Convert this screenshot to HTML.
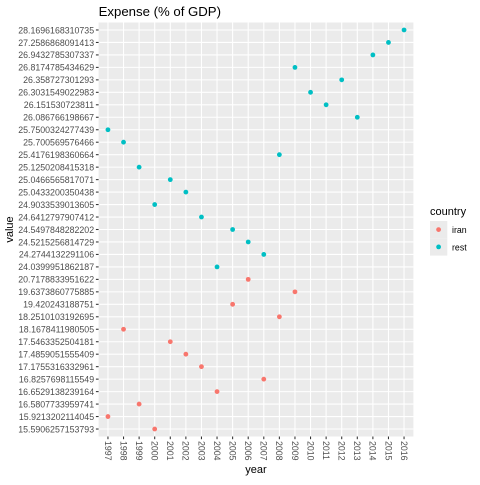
<!DOCTYPE html>
<html><head><meta charset="utf-8"><style>
html,body{margin:0;padding:0;background:#fff;}
svg text{font-family:"Liberation Sans",Arial,sans-serif;}
</style></head><body>
<svg id="chart" width="480" height="480" xmlns="http://www.w3.org/2000/svg"></svg>
<script>
const years = ['1997','1998','1999','2000','2001','2002','2003','2004','2005','2006','2007','2008','2009','2010','2011','2012','2013','2014','2015','2016'];
const levels = ['15.5906257153793','15.9213202114045','16.5807733959741','16.6529138239164','16.8257698115549','17.1755316332961','17.4859051555409','17.5463352504181','18.1678411980505','18.2510103192695','19.420243188751','19.6373860775885','20.7178833951622','24.0399951862187','24.2744132291106','24.5215256814729','24.5497848282202','24.6412797907412','24.9033539013605','25.0433200350438','25.0466565817071','25.1250208415318','25.4176198360664','25.700569576466','25.7500324277439','26.086766198667','26.151530723811','26.3031549022983','26.358727301293','26.8174785434629','26.9432785307337','27.2586868091413','28.1696168310735'];
const iranYears = ['1997','1998','1999','2000','2001','2002','2003','2004','2005','2006','2007','2008','2009'];
const iranValues = ['15.9213202114045','18.1678411980505','16.5807733959741','15.5906257153793','17.5463352504181','17.4859051555409','17.1755316332961','16.6529138239164','19.420243188751','20.7178833951622','16.8257698115549','18.2510103192695','19.6373860775885'];
const restYears = years.slice();
const restValues = ['25.7500324277439','25.700569576466','25.1250208415318','24.9033539013605','25.0466565817071','25.0433200350438','24.6412797907412','24.0399951862187','24.5497848282202','24.5215256814729','24.2744132291106','25.4176198360664','26.8174785434629','26.3031549022983','26.151530723811','26.358727301293','26.086766198667','26.9432785307337','27.2586868091413','28.1696168310735'];

const svg = document.getElementById('chart');
const NS = 'http://www.w3.org/2000/svg';
function mk(tag, attrs, parent){const e=document.createElementNS(NS,tag);for(const k in attrs)e.setAttribute(k,attrs[k]);(parent||svg).appendChild(e);return e;}
const L=98.6,R=413.4,T=22.5,B=436.5;
const xs=(R-L)/(years.length-1+1.2), ys=(B-T)/(levels.length-1+1.2);
function xPos(y){return L+(years.indexOf(y)+0.6)*xs;}
function yPos(v){return B-(levels.indexOf(v)+0.6)*ys;}

const panel=mk('rect',{x:L,y:T,width:R-L,height:B-T,fill:'#EBEBEB'});


years.forEach(y=>{const l=mk('line',{x1:xPos(y),x2:xPos(y),y1:T,y2:B,stroke:'#fff','stroke-width':1.07});

});
levels.forEach(v=>{const l=mk('line',{x1:L,x2:R,y1:yPos(v),y2:yPos(v),stroke:'#fff','stroke-width':1.07});

});
levels.forEach(v=>{
  const t=mk('line',{x1:L-2.7,x2:L,y1:yPos(v),y2:yPos(v),stroke:'#333','stroke-width':1.07});
  
  
  const tx=mk('text',{x:L-4.5,y:yPos(v)+3.3,'text-anchor':'end','font-size':'8.8',fill:'#4D4D4D'});tx.textContent=v;
  
  
});
years.forEach(y=>{
  const t=mk('line',{x1:xPos(y),x2:xPos(y),y1:B,y2:B+2.7,stroke:'#333','stroke-width':1.07});
  
  
  const x=xPos(y)-3.2,yy=B+4.5;
  const tx=mk('text',{x:x,y:yy,transform:`rotate(90 ${x} ${yy})`,'font-size':'8.8',fill:'#4D4D4D'});tx.textContent=y;
  
  
});
iranYears.forEach((y,i)=>{const c=mk('circle',{cx:xPos(y),cy:yPos(iranValues[i]),r:2.4,fill:'#F8766D'});

});
restYears.forEach((y,i)=>{const c=mk('circle',{cx:xPos(y),cy:yPos(restValues[i]),r:2.4,fill:'#00BFC4'});

});

let t=mk('text',{x:L,y:16,'font-size':'13.2',fill:'#000'});t.textContent='Expense (% of GDP)';


t=mk('text',{x:(L+R)/2,y:473,'text-anchor':'middle','font-size':'11',fill:'#000'});t.textContent='year';


t=mk('text',{x:13,y:(T+B)/2,'text-anchor':'middle','font-size':'11',fill:'#000',transform:`rotate(-90 13 ${(T+B)/2})`});t.textContent='value';



const lg=mk('g',{});


t=mk('text',{x:430,y:215,'font-size':'11',fill:'#000'},lg);t.textContent='country';


[['iran','#F8766D'],['rest','#00BFC4']].forEach((d,i)=>{
  const g=mk('g',{},lg);
  
  
  mk('rect',{x:430,y:221+i*17.3,width:17.3,height:17.3,fill:'#EBEBEB'},g);
  mk('circle',{cx:438.6,cy:229.6+i*17.3,r:2.4,fill:d[1]},g);
  const tx=mk('text',{x:452,y:233+i*17.3,'font-size':'8.8',fill:'#000'},g);tx.textContent=d[0];
});
</script>
</body></html>
